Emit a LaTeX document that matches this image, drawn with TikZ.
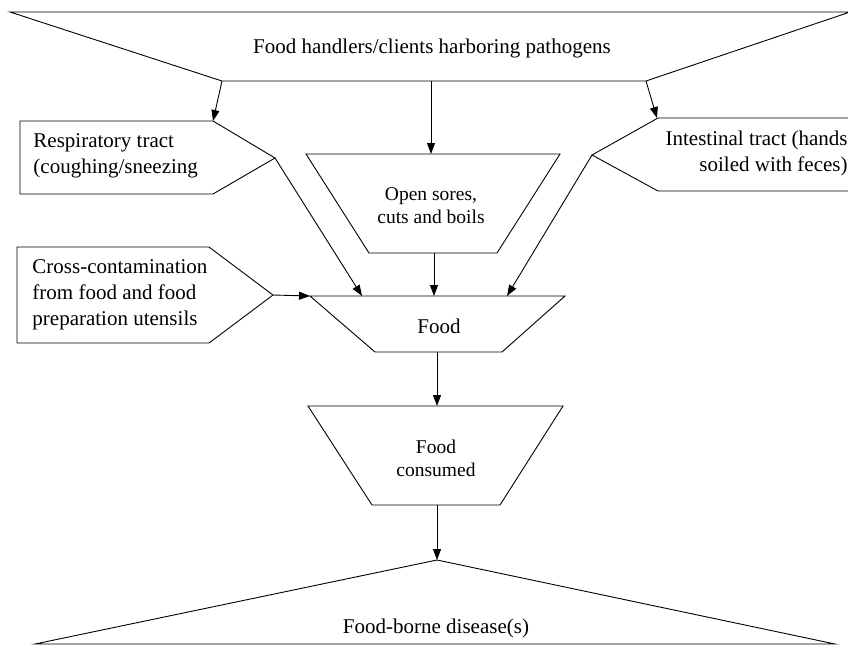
\documentclass[tikz,border=0pt]{standalone}
\usepackage{fontspec}
\setmainfont{Liberation Serif}
\usetikzlibrary{arrows.meta}
\begin{document}
\begin{tikzpicture}[x=1pt,y=-1pt,line width=0.9pt,
    flow/.style={-{Triangle[length=11pt,width=8pt]}},
    big/.style={font=\fontsize{21}{26}\selectfont,inner sep=0pt},
    small/.style={font=\fontsize{19.5}{23}\selectfont,inner sep=0pt,align=center}]
    \useasboundingbox (0,0) rectangle (848,646);
    \draw (10,12) -- (850,12) -- (646,81) -- (222,81) -- cycle;
    \coordinate (src-l) at (222,81);
    \coordinate (src-m) at (431,81);
    \coordinate (src-r) at (646,81);
    \node [big] (src) at (432,48) {Food handlers/clients harboring pathogens};
    \draw (20,121) -- (213,121) -- (275,158) -- (213,194) -- (20,194) -- cycle;
    \coordinate (resp-in) at (213,121);
    \coordinate (resp-out) at (275,158);
    \node [big,anchor=west,align=left] (resp) at (33,156) {Respiratory tract\\(coughing/sneezing};
    \draw (860,118) -- (658,118) -- (592,155) -- (658,191) -- (860,191);
    \coordinate (int-in) at (657,118);
    \coordinate (int-out) at (592,155);
    \node [big,anchor=east,align=right] (int) at (848,153) {Intestinal tract (hands\\soiled with feces)};
    \draw (306,154) -- (560,154) -- (497,253) -- (369,253) -- cycle;
    \coordinate (sores-in) at (431,154);
    \coordinate (sores-out) at (434,253);
    \node [small] (sores) at (431,206) {Open sores,\\cuts and boils};
    \draw (17,247) -- (209,247) -- (273,295) -- (209,343) -- (17,343) -- cycle;
    \coordinate (cross-out) at (273,295);
    \node [big,anchor=west,align=left] (cross) at (32,295) {Cross-contamination\\from food and food\\preparation utensils};
    \draw (310,296) -- (565,296) -- (502,352) -- (375,352) -- cycle;
    \coordinate (food-nw) at (310,296);
    \coordinate (food-a) at (362,296);
    \coordinate (food-b) at (434,296);
    \coordinate (food-c) at (507,296);
    \coordinate (food-out) at (437,352);
    \node [big] (food) at (439,326) {Food};
    \draw (308,406) -- (563,406) -- (500,505) -- (372,505) -- cycle;
    \coordinate (cons-in) at (437,406);
    \coordinate (cons-out) at (437,505);
    \node [small] (cons) at (436,458) {Food\\consumed};
    \draw (35,644) -- (437,560) -- (835,644) -- cycle;
    \coordinate (dis-in) at (437,560);
    \node [big] (dis) at (436,628) {Food-borne disease(s)};
    \draw [flow] (src-l) -- (resp-in);
    \draw [flow] (src-m) -- (sores-in);
    \draw [flow] (src-r) -- (int-in);
    \draw [flow] (resp-out) -- (food-a);
    \draw [flow] (int-out) -- (food-c);
    \draw [flow] (sores-out) -- (food-b);
    \draw [flow] (cross-out) -- (food-nw);
    \draw [flow] (food-out) -- (cons-in);
    \draw [flow] (cons-out) -- (dis-in);
\end{tikzpicture}
\end{document}
